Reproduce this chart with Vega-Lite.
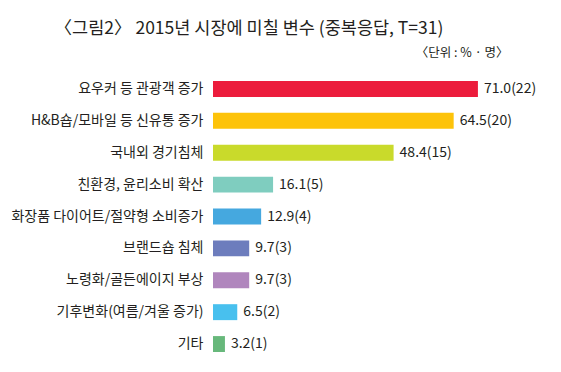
{
  "$schema": "https://vega.github.io/schema/vega-lite/v6.json",
  "width": 300,
  "height": 287,
  "autosize": {"type": "none"},
  "padding": {"left": 213, "top": 73, "right": 48, "bottom": 12},
  "background": "white",
  "title": {
    "text": "〈그림2〉 2015년 시장에 미칠 변수 (중복응답, T=31)",
    "anchor": "middle",
    "dx": -114,
    "offset": 9,
    "font": "Noto Sans CJK KR",
    "fontSize": 17.5,
    "fontWeight": "normal",
    "color": "#231f20"
  },
  "data": {
    "values": [
      {"cat": "요우커 등 관광객 증가", "value": 71.0, "label": "71.0(22)"},
      {"cat": "H&B숍/모바일 등 신유통 증가", "value": 64.5, "label": "64.5(20)"},
      {"cat": "국내외 경기침체", "value": 48.4, "label": "48.4(15)"},
      {"cat": "친환경, 윤리소비 확산", "value": 16.1, "label": "16.1(5)"},
      {"cat": "화장품 다이어트/절약형 소비증가", "value": 12.9, "label": "12.9(4)"},
      {"cat": "브랜드숍 침체", "value": 9.7, "label": "9.7(3)"},
      {"cat": "노령화/골든에이지 부상", "value": 9.7, "label": "9.7(3)"},
      {"cat": "기후변화(여름/겨울 증가)", "value": 6.5, "label": "6.5(2)"},
      {"cat": "기타", "value": 3.2, "label": "3.2(1)"}
    ]
  },
  "encoding": {
    "y": {
      "field": "cat",
      "type": "nominal",
      "sort": null,
      "scale": {"paddingInner": 0.5, "paddingOuter": 0.25},
      "axis": {
        "title": null,
        "domain": false,
        "ticks": false,
        "labelPadding": 10,
        "labelFont": "Noto Sans CJK KR",
        "labelFontSize": 14,
        "labelColor": "#231f20",
        "labelLimit": 260
      }
    },
    "x": {
      "field": "value",
      "type": "quantitative",
      "scale": {"domain": [0, 80.4], "nice": false},
      "axis": {
        "orient": "top",
        "title": "〈단위 : % · 명〉",
        "titleFont": "Noto Sans CJK KR",
        "titleFontSize": 12.5,
        "titleFontWeight": "normal",
        "titleColor": "#231f20",
        "titleAnchor": "end",
        "titleAlign": "right",
        "titleX": 295,
        "titleY": -21,
        "titleBaseline": "middle",
        "labels": false,
        "ticks": false,
        "domain": false,
        "grid": false
      }
    }
  },
  "layer": [
    {
      "mark": {"type": "bar"},
      "encoding": {
        "color": {
          "field": "cat",
          "type": "nominal",
          "legend": null,
          "scale": {
            "domain": ["요우커 등 관광객 증가", "H&B숍/모바일 등 신유통 증가", "국내외 경기침체", "친환경, 윤리소비 확산", "화장품 다이어트/절약형 소비증가", "브랜드숍 침체", "노령화/골든에이지 부상", "기후변화(여름/겨울 증가)", "기타"],
            "range": ["#ec1c3c", "#fdc30a", "#c9da2b", "#7fcdbf", "#45a8df", "#6d7dbd", "#b086bd", "#48c0ee", "#67b87b"]
          }
        }
      }
    },
    {
      "mark": {"type": "text", "align": "left", "baseline": "middle", "dx": 6, "font": "Noto Sans CJK KR", "fontSize": 14, "color": "#231f20"},
      "encoding": {"text": {"field": "label"}}
    }
  ],
  "config": {"view": {"stroke": null}}
}
